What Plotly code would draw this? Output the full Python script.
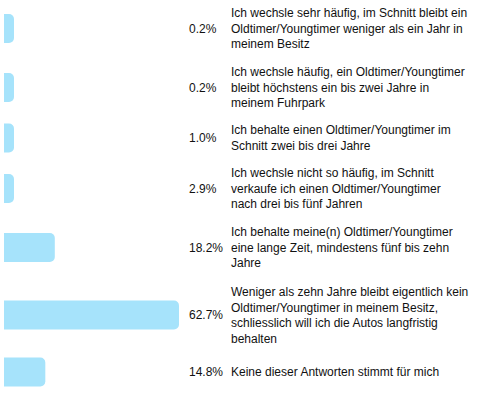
import plotly.graph_objects as go

labels = [
    "Ich wechsle sehr häufig, im Schnitt bleibt ein<br>Oldtimer/Youngtimer weniger als ein Jahr in<br>meinem Besitz",
    "Ich wechsle häufig, ein Oldtimer/Youngtimer<br>bleibt höchstens ein bis zwei Jahre in<br>meinem Fuhrpark",
    "Ich behalte einen Oldtimer/Youngtimer im<br>Schnitt zwei bis drei Jahre",
    "Ich wechsle nicht so häufig, im Schnitt<br>verkaufe ich einen Oldtimer/Youngtimer<br>nach drei bis fünf Jahren",
    "Ich behalte meine(n) Oldtimer/Youngtimer<br>eine lange Zeit, mindestens fünf bis zehn<br>Jahre",
    "Weniger als zehn Jahre bleibt eigentlich kein<br>Oldtimer/Youngtimer in meinem Besitz,<br>schliesslich will ich die Autos langfristig<br>behalten",
    "Keine dieser Antworten stimmt für mich",
]
values = [0.2, 0.2, 1.0, 2.9, 18.2, 62.7, 14.8]

W, H = 480, 396
FONT = "Helvetica, Arial, Liberation Sans, sans-serif"
BAR_COLOR = "#A6E3FB"
TEXT_COLOR = "#111111"
LINE_H = 17
GAP = 8
BAR_H = 30

# row layout in pixel units (y down)
centers = []
top = 3
for lab in labels:
    n = lab.count("<br>") + 1
    h = max(BAR_H, n * LINE_H)
    centers.append(top + h / 2)
    top += h + GAP

xmax = max(values)
bar_left, bar_right = 4, 179
px_per_unit = (bar_right - bar_left) / xmax
min_len = 10 / px_per_unit
shown = [max(v, min_len) for v in values]

fig = go.Figure(go.Bar(
    x=shown, y=centers, orientation="h", width=BAR_H - 1,
    marker=dict(color=BAR_COLOR, line=dict(width=0), cornerradius=5),
    hoverinfo="skip",
))

annotations = []
for c, v, lab in zip(centers, values, labels):
    annotations.append(dict(
        x=187 / W, xref="paper", y=c, yref="y", text=f"{v:.1f}%",
        xanchor="left", yanchor="middle", showarrow=False,
        font=dict(family=FONT, size=12, color=TEXT_COLOR),
    ))
    annotations.append(dict(
        x=229 / W, xref="paper", y=c, yref="y", text=lab,
        xanchor="left", yanchor="middle", align="left", showarrow=False,
        font=dict(family=FONT, size=12, color=TEXT_COLOR),
    ))

fig.update_layout(
    width=W, height=H,
    margin=dict(l=0, r=0, t=0, b=0),
    paper_bgcolor="white", plot_bgcolor="white",
    showlegend=False,
    hovermode=False,
    xaxis=dict(domain=[bar_left / W, bar_right / W], range=[0, xmax],
               visible=False, fixedrange=True),
    yaxis=dict(range=[H, 0], visible=False, fixedrange=True),
    annotations=annotations,
)

fig.write_html(
    "out.html",
    config={"displayModeBar": False, "staticPlot": True},
    post_script="document.body.style.margin='0';document.body.style.overflow='hidden';",
)
